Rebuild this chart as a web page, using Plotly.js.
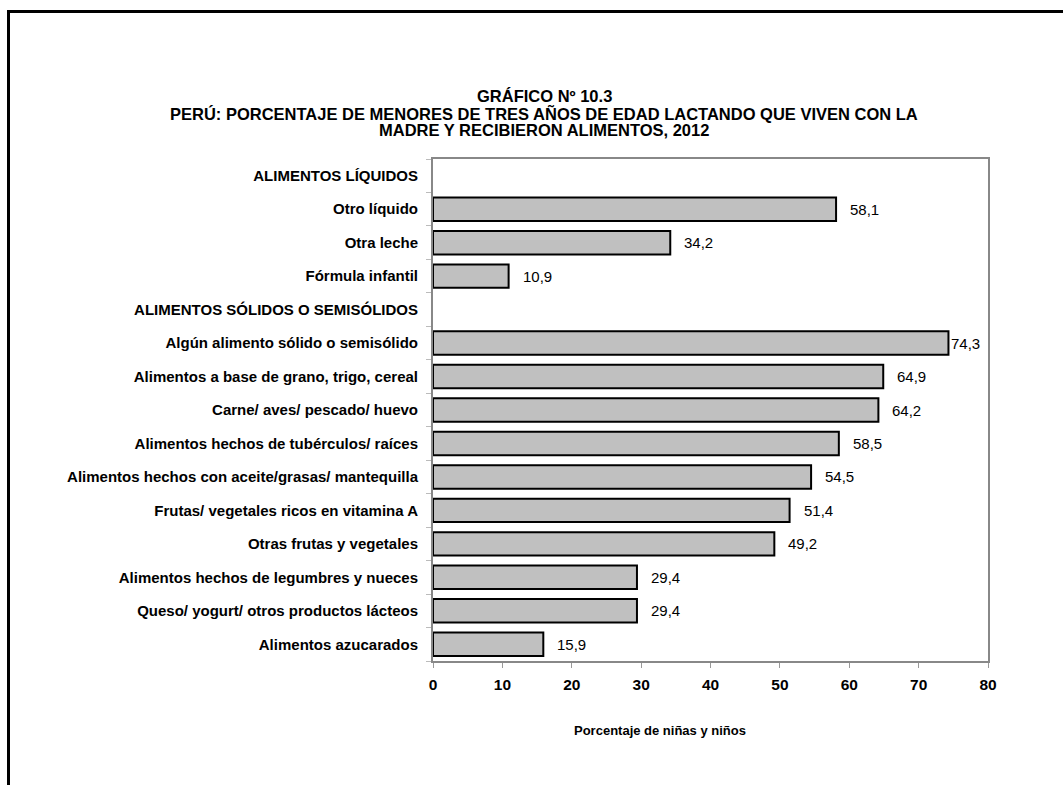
<!DOCTYPE html>
<html>
<head>
<meta charset="utf-8">
<script src="https://cdn.plot.ly/plotly-3.0.1.min.js"></script>
<style>
html,body{margin:0;padding:0;background:#fff;}
#chart{width:1063px;height:785px;}
</style>
</head>
<body>
<div id="chart"></div>
<script>
const titleLines = [
  "GRÁFICO Nº 10.3",
  "PERÚ: PORCENTAJE DE MENORES DE TRES AÑOS DE EDAD LACTANDO QUE VIVEN CON LA",
  "MADRE Y RECIBIERON ALIMENTOS, 2012"
];
const categories = [
  "ALIMENTOS LÍQUIDOS",
  "Otro líquido",
  "Otra leche",
  "Fórmula infantil",
  "ALIMENTOS SÓLIDOS O SEMISÓLIDOS",
  "Algún alimento sólido o semisólido",
  "Alimentos a base de grano, trigo, cereal",
  "Carne/ aves/ pescado/ huevo",
  "Alimentos hechos de tubérculos/ raíces",
  "Alimentos hechos con aceite/grasas/ mantequilla",
  "Frutas/ vegetales ricos en vitamina A",
  "Otras frutas y vegetales",
  "Alimentos hechos de legumbres y nueces",
  "Queso/ yogurt/ otros productos lácteos",
  "Alimentos azucarados"
];
const values = [null, 58.1, 34.2, 10.9, null, 74.3, 64.9, 64.2, 58.5, 54.5, 51.4, 49.2, 29.4, 29.4, 15.9];
const xTicks = [0, 10, 20, 30, 40, 50, 60, 70, 80];
const xTitle = "Porcentaje de niñas y niños";

const FONT = "'Liberation Sans Narrow', 'Arial Narrow', 'Liberation Sans', Arial, sans-serif";

// plot area geometry (pixels)
const W = 1063, H = 785;
const L = 433, R = 988, T = 159, B = 661;
const pw = R - L, ph = B - T;
const px = v => (v - L) / pw;
const py = v => (B - v) / ph;

const fmt = v => v.toFixed(1).replace('.', ',');

const annotations = [];
categories.forEach((c, i) => {
  const v = values[i];
  if (v === null) return;
  const endPx = L + v / 80 * pw;
  const room = R - endPx - 30;
  const shift = room >= 12 ? 12 : 1;
  annotations.push({
    x: v, y: c, xref: 'x', yref: 'y',
    text: fmt(v), showarrow: false,
    xanchor: 'left', yanchor: 'middle', xshift: shift,
    font: {family: FONT, size: 15, color: '#000'}
  });
});

// title lines
const titleY = [96, 113, 130];
titleLines.forEach((t, i) => {
  annotations.push({
    xref: 'paper', yref: 'paper', x: px(544), y: py(titleY[i]),
    text: '<b>' + t + '</b>', showarrow: false,
    xanchor: 'center', yanchor: 'middle',
    font: {family: FONT, size: 16.5, color: '#000'}
  });
});

annotations.push({
  xref: 'paper', yref: 'paper', x: px(660), y: py(731),
  text: '<b>' + xTitle + '</b>', showarrow: false,
  xanchor: 'center', yanchor: 'middle',
  font: {family: FONT, size: 13, color: '#000'}
});

const trace = {
  type: 'bar', orientation: 'h',
  y: categories, x: values,
  marker: {color: '#c0c0c0', line: {color: '#000', width: 2}},
  hoverinfo: 'x+y', cliponaxis: false
};

const layout = {
  width: W, height: H,
  margin: {l: L, r: W - R, t: T, b: H - B, pad: 0},
  paper_bgcolor: '#fff', plot_bgcolor: '#fff',
  showlegend: false,
  bargap: 0.3,
  xaxis: {
    range: [0, 80], tickvals: xTicks, ticktext: xTicks.map(t => '<b>' + t + '</b>'),
    ticks: 'outside', ticklen: 5, tickcolor: '#999', tickwidth: 1,
    showline: true, linecolor: '#888', linewidth: 2, mirror: true,
    showgrid: false, zeroline: false,
    ticklabelstandoff: 3,
    tickfont: {family: FONT, size: 15.5, color: '#000'}
  },
  yaxis: {
    type: 'category', autorange: 'reversed',
    tickson: 'boundaries', ticks: 'outside', ticklen: 5, tickcolor: '#bbb', tickwidth: 1,
    showline: true, linecolor: '#888', linewidth: 2, mirror: true,
    showgrid: false, zeroline: false,
    ticklabelstandoff: 10,
    tickvals: categories, ticktext: categories.map(c => '<b>' + c + '</b>'),
    tickfont: {family: FONT, size: 15, color: '#000'}
  },
  annotations: annotations,
  shapes: [{
    type: 'rect', xref: 'paper', yref: 'paper',
    x0: px(8.5), x1: px(1075), y0: py(800), y1: py(11.5),
    line: {color: '#000', width: 3}, fillcolor: 'rgba(0,0,0,0)', layer: 'below'
  }]
};

Plotly.newPlot('chart', [trace], layout, {displayModeBar: false, staticPlot: true});
</script>
</body>
</html>
